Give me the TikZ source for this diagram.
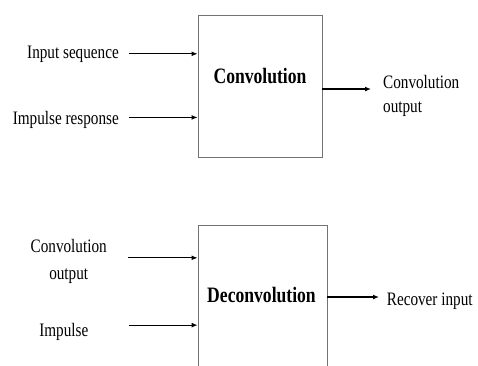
\documentclass[tikz,border=0pt]{standalone}
\usepackage{fontspec}
\setmainfont{Liberation Serif}[FakeStretch=0.8]
\usetikzlibrary{positioning,arrows.meta}

\begin{document}
\begin{tikzpicture}[x=1pt, y=-1pt,
    block/.style={draw=black!55, line width=0.8pt, inner sep=0pt},
    lbl/.style={inner sep=0pt, font=\fontsize{19}{24}\selectfont},
    title/.style={inner sep=0pt, font=\fontsize{22}{26}\selectfont\bfseries},
    sig/.style={-{Latex[length=6pt,width=5pt]}, line width=1.2pt}]
    \clip (0,0) rectangle (478,365);
    % convolution
    \node [block, minimum width=124pt, minimum height=142pt] (conv) at (260,86) {};
    \node [title, anchor=base] (convname) at (260,83) {Convolution};
    \node [lbl, anchor=base east] (inseq) at (119,58) {Input sequence};
    \node [lbl, anchor=base east] (impresp) at (119,124) {Impulse response};
    \node [lbl, align=left, anchor=west] (convout) at (383,96) {Convolution\\output};
    \coordinate (convtip) at (371,89);
    \draw [sig] ([xshift=10pt]inseq.east) -- (conv.west |- inseq.east);
    \draw [sig] ([xshift=10pt, yshift=2pt]impresp.east) -- ([yshift=2pt]conv.west |- impresp.east);
    \draw [sig] (conv.east |- convtip) -- (convtip);
    % deconvolution
    \node [block, minimum width=129pt, minimum height=160pt, anchor=north] (deconv) at (262.5,225) {};
    \node [title, anchor=base] (deconvname) at (261.5,302.7) {Deconvolution};
    \node [lbl, font=\fontsize{19}{27}\selectfont, align=center, anchor=north] (convin) at (68.7,239) {Convolution\\output};
    \node [lbl, anchor=base] (imp) at (63.8,336.7) {Impulse};
    \node [lbl, anchor=base west] (recin) at (386.7,305) {Recover input};
    \coordinate (rectip) at (379,297);
    \draw [sig] ([xshift=21pt, yshift=3.5pt]convin.east) -- ([yshift=3.5pt]deconv.west |- convin.east);
    \draw [sig] ([yshift=7pt]imp.east -| impresp.east) ++(10pt,0) -- ([yshift=7pt]deconv.west |- imp.east);
    \draw [sig] (deconv.east |- rectip) -- (rectip);
\end{tikzpicture}
\end{document}
